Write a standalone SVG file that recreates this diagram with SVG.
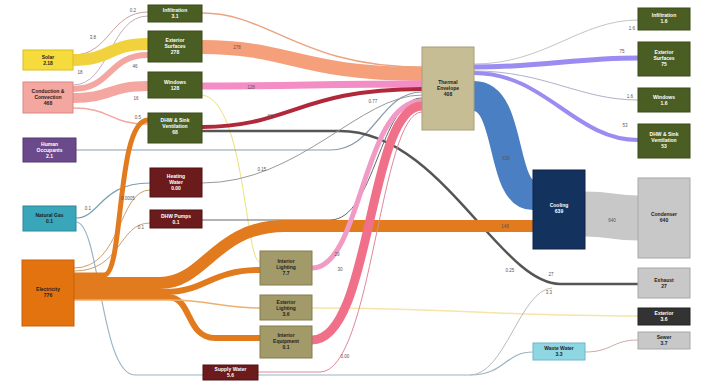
<svg xmlns="http://www.w3.org/2000/svg" width="702" height="381" viewBox="0 0 702 381">
<style>
.f{fill:none;stroke-linecap:butt}
.n text{font-family:"Liberation Sans",Arial,sans-serif;font-size:5px;font-weight:bold;text-anchor:middle}
.w{fill:#fff}
.d{fill:#222}
.l{font-family:"Liberation Sans",Arial,sans-serif;font-size:4.5px;fill:#555;text-anchor:middle}
</style>
<rect width="702" height="381" fill="#ffffff"/>
<g id="connectors">
<path class="f" d="M73,55 C110,55 110,12 148,12" stroke="#c9a0a0" stroke-width="1"/>
<path class="f" d="M73,85 C110,85 110,16 148,16" stroke="#c0b0c0" stroke-width="1"/>
<path class="f" d="M73,60 C112,60 108,44 148,44" stroke="#f2d23c" stroke-width="12"/>
<path class="f" d="M73,89 C112,89 108,55 148,55" stroke="#f4a6a0" stroke-width="6"/>
<path class="f" d="M73,98 C112,98 108,86 148,86" stroke="#f4a6a0" stroke-width="10"/>
<path class="f" d="M73,108 C112,108 108,124 148,124" stroke="#f4a6a0" stroke-width="1.5"/>
<path class="f" d="M202,95 C245,100 245,262 260,262" stroke="#ede07a" stroke-width="1"/>
<path class="f" d="M202,13 C270,13 300,67 422,67" stroke="#eaa482" stroke-width="1.5"/>
<path class="f" d="M202,47 C290,47 300,74 422,74" stroke="#f5a07a" stroke-width="14"/>
<path class="f" d="M202,86 C300,86 320,84 422,84" stroke="#f48cc6" stroke-width="7"/>
<path class="f" d="M202,127 C290,127 300,89 422,89" stroke="#b0283a" stroke-width="4"/>
<path class="f" d="M76,150 L330,150 C375,150 380,92 422,92" stroke="#8a9aaa" stroke-width="1.2"/>
<path class="f" d="M202,131 L340,131 C440,131 500,284 560,284 L638,284" stroke="#555555" stroke-width="2.5"/>
<path class="f" d="M74,268 C122,268 118,190 150,190" stroke="#c9a070" stroke-width="1"/>
<path class="f" d="M74,271 C122,271 118,223 150,223" stroke="#c9a070" stroke-width="1"/>
<path class="f" d="M76,218 C100,218 100,183 150,183" stroke="#7aa0b0" stroke-width="1.2"/>
<path class="f" d="M76,222 C100,222 100,375 135,375 L470,375 C505,375 505,352 533,352" stroke="#9ab4c4" stroke-width="1.2"/>
<path class="f" d="M202,183 C300,183 360,95 422,95" stroke="#999999" stroke-width="1"/>
<path class="f" d="M202,220 L330,220 C375,220 380,98 422,98" stroke="#666666" stroke-width="1"/>
<path class="f" d="M74,275 L104,275 C124,275 116,120 148,120" stroke="#e27a1e" stroke-width="5"/>
<path class="f" d="M74,283 L160,283 C205,283 215,226 285,226 L533,226" stroke="#e27a1e" stroke-width="12"/>
<path class="f" d="M74,292 L165,292 C205,292 210,270 260,270" stroke="#e27a1e" stroke-width="6"/>
<path class="f" d="M74,297 L168,297 C192,297 186,338 215,338 L260,338" stroke="#e27a1e" stroke-width="6"/>
<path class="f" d="M74,300 L170,300 C210,300 220,308 260,308" stroke="#eeb070" stroke-width="1.5"/>
<path class="f" d="M312,308 C450,308 500,316 638,316" stroke="#f7e4a8" stroke-width="1.5"/>
<path class="f" d="M312,268 C362,268 362,101 422,101" stroke="#f29ac6" stroke-width="5"/>
<path class="f" d="M312,340 C372,340 368,106 422,106" stroke="#f0708a" stroke-width="9"/>
<path class="f" d="M258,372 L320,372 C372,372 380,112 422,112" stroke="#e0889a" stroke-width="1"/>
<path class="f" d="M470,375 C505,375 520,290 552,288" stroke="#bbbbbb" stroke-width="1"/>
<path class="f" d="M474,96 C512,96 500,195 533,195" stroke="#4a7fc4" stroke-width="30"/>
<path class="f" d="M474,64 C545,64 580,20 638,20" stroke="#c4c4c4" stroke-width="1"/>
<path class="f" d="M474,67 C545,67 575,58 638,58" stroke="#9a8cf0" stroke-width="5"/>
<path class="f" d="M474,71 C545,71 580,100 638,100" stroke="#b0b0c8" stroke-width="1"/>
<path class="f" d="M474,73 C545,73 575,140 638,140" stroke="#9a8cf0" stroke-width="4"/>
<path class="f" d="M585,214 C612,214 612,218 638,218" stroke="#c8c8c8" stroke-width="45"/>
<path class="f" d="M585,352 C612,352 612,340 638,340" stroke="#cfa8a8" stroke-width="1"/>
<text class="l" x="93" y="39">3.8</text>
<text class="l" x="80" y="74">18</text>
<text class="l" x="133" y="12">0.2</text>
<text class="l" x="135" y="68">46</text>
<text class="l" x="136" y="100">16</text>
<text class="l" x="138" y="119">0.5</text>
<text class="l" x="237" y="49">278</text>
<text class="l" x="251" y="89">128</text>
<text class="l" x="270" y="118">68</text>
<text class="l" x="373" y="103">0.77</text>
<text class="l" x="88" y="210">0.1</text>
<text class="l" x="128" y="200">0.0005</text>
<text class="l" x="141" y="229">0.1</text>
<text class="l" x="262" y="171">0.15</text>
<text class="l" x="337" y="256">29</text>
<text class="l" x="340" y="271">30</text>
<text class="l" x="345" y="358">0.00</text>
<text class="l" x="505" y="228">148</text>
<text class="l" x="506" y="160">639</text>
<text class="l" x="612" y="222">640</text>
<text class="l" x="510" y="272">0.25</text>
<text class="l" x="551" y="276">27</text>
<text class="l" x="549" y="294">3.3</text>
<text class="l" x="632" y="30">1.6</text>
<text class="l" x="622" y="53">75</text>
<text class="l" x="630" y="98">1.6</text>
<text class="l" x="625" y="127">53</text>
</g>
<g id="solar" class="n"><rect x="23" y="50" width="50" height="20" fill="#f5dc3c" stroke="#d8be20"/><text class="d" x="48" y="59">Solar</text><text class="d" x="48" y="65">2.18</text></g>
<g id="conduction" class="n"><rect x="23" y="82" width="50" height="31" fill="#f4a6a0" stroke="#d88880"/><text class="d" x="48" y="93">Conduction &amp;</text><text class="d" x="48" y="99">Convection</text><text class="d" x="48" y="105">468</text></g>
<g id="occupants" class="n"><rect x="23" y="138" width="53" height="24" fill="#6b4a8c" stroke="#54386e"/><text class="w" x="49.5" y="146">Human</text><text class="w" x="49.5" y="152">Occupants</text><text class="w" x="49.5" y="158">2.1</text></g>
<g id="gas" class="n"><rect x="23" y="206" width="53" height="25" fill="#3aa6b9" stroke="#2a8898"/><text class="d" x="49.5" y="217">Natural Gas</text><text class="d" x="49.5" y="223">0.1</text></g>
<g id="electricity" class="n"><rect x="22" y="260" width="52" height="66" fill="#e2730f" stroke="#c86008"/><text class="d" x="48" y="291">Electricity</text><text class="d" x="48" y="297">776</text></g>
<g id="infiltration-in" class="n"><rect x="148" y="5" width="54" height="17" fill="#4a5e23" stroke="#3a4a18"/><text class="w" x="175" y="12">Infiltration</text><text class="w" x="175" y="18">3.1</text></g>
<g id="exterior-surfaces-in" class="n"><rect x="148" y="31" width="54" height="31" fill="#4a5e23" stroke="#3a4a18"/><text class="w" x="175" y="42">Exterior</text><text class="w" x="175" y="48">Surfaces</text><text class="w" x="175" y="54">278</text></g>
<g id="windows-in" class="n"><rect x="148" y="72" width="54" height="26" fill="#4a5e23" stroke="#3a4a18"/><text class="w" x="175" y="84">Windows</text><text class="w" x="175" y="90">128</text></g>
<g id="dhw-in" class="n"><rect x="148" y="113" width="54" height="30" fill="#4a5e23" stroke="#3a4a18"/><text class="w" x="175" y="122">DHW &amp; Sink</text><text class="w" x="175" y="128">Ventilation</text><text class="w" x="175" y="134">68</text></g>
<g id="heating-water" class="n"><rect x="150" y="168" width="52" height="29" fill="#6b1b1b" stroke="#501010"/><text class="w" x="176" y="178">Heating</text><text class="w" x="176" y="184">Water</text><text class="w" x="176" y="190">0.00</text></g>
<g id="dhw-pumps" class="n"><rect x="150" y="210" width="52" height="18" fill="#6b1b1b" stroke="#501010"/><text class="w" x="176" y="218">DHW Pumps</text><text class="w" x="176" y="224">0.1</text></g>
<g id="interior-lighting" class="n"><rect x="260" y="251" width="52" height="34" fill="#a39a6a" stroke="#857c50"/><text class="d" x="286" y="263">Interior</text><text class="d" x="286" y="269">Lighting</text><text class="d" x="286" y="275">7.7</text></g>
<g id="exterior-lighting" class="n"><rect x="260" y="295" width="52" height="25" fill="#a39a6a" stroke="#857c50"/><text class="d" x="286" y="304">Exterior</text><text class="d" x="286" y="310">Lighting</text><text class="d" x="286" y="316">3.6</text></g>
<g id="interior-equipment" class="n"><rect x="260" y="326" width="52" height="32" fill="#a39a6a" stroke="#857c50"/><text class="d" x="286" y="337">Interior</text><text class="d" x="286" y="343">Equipment</text><text class="d" x="286" y="349">0.1</text></g>
<g id="supply-water" class="n"><rect x="203" y="365" width="55" height="15" fill="#6b1b1b" stroke="#501010"/><text class="w" x="230.5" y="371">Supply Water</text><text class="w" x="230.5" y="377">5.6</text></g>
<g id="thermal" class="n"><rect x="422" y="47" width="52" height="83" fill="#c7bd95" stroke="#a89e78"/><text class="d" x="448" y="84">Thermal</text><text class="d" x="448" y="90">Envelope</text><text class="d" x="448" y="96">408</text></g>
<g id="cooling" class="n"><rect x="533" y="170" width="52" height="79" fill="#14325e" stroke="#0c2248"/><text class="w" x="559" y="207">Cooling</text><text class="w" x="559" y="213">639</text></g>
<g id="waste-water" class="n"><rect x="533" y="343" width="52" height="17" fill="#8fd6e3" stroke="#6ab8c8"/><text class="d" x="559" y="350">Waste Water</text><text class="d" x="559" y="356">3.3</text></g>
<g id="infiltration-out" class="n"><rect x="638" y="8" width="52" height="22" fill="#4a5e23" stroke="#3a4a18"/><text class="w" x="664" y="17">Infiltration</text><text class="w" x="664" y="23">1.6</text></g>
<g id="exterior-surfaces-out" class="n"><rect x="638" y="42" width="52" height="34" fill="#4a5e23" stroke="#3a4a18"/><text class="w" x="664" y="54">Exterior</text><text class="w" x="664" y="60">Surfaces</text><text class="w" x="664" y="66">75</text></g>
<g id="windows-out" class="n"><rect x="638" y="88" width="52" height="24" fill="#4a5e23" stroke="#3a4a18"/><text class="w" x="664" y="99">Windows</text><text class="w" x="664" y="105">1.6</text></g>
<g id="dhw-out" class="n"><rect x="638" y="124" width="52" height="34" fill="#4a5e23" stroke="#3a4a18"/><text class="w" x="664" y="136">DHW &amp; Sink</text><text class="w" x="664" y="142">Ventilation</text><text class="w" x="664" y="148">53</text></g>
<g id="condenser" class="n"><rect x="638" y="178" width="52" height="80" fill="#c8c8c8" stroke="#a8a8a8"/><text class="d" x="664" y="216">Condenser</text><text class="d" x="664" y="222">640</text></g>
<g id="exhaust" class="n"><rect x="638" y="268" width="52" height="30" fill="#c8c8c8" stroke="#a8a8a8"/><text class="d" x="664" y="282">Exhaust</text><text class="d" x="664" y="288">27</text></g>
<g id="exterior" class="n"><rect x="638" y="308" width="52" height="17" fill="#333333" stroke="#222"/><text class="w" x="664" y="315">Exterior</text><text class="w" x="664" y="321">3.6</text></g>
<g id="sewer" class="n"><rect x="638" y="332" width="52" height="17" fill="#c8c8c8" stroke="#a8a8a8"/><text class="d" x="664" y="339">Sewer</text><text class="d" x="664" y="345">3.7</text></g>
</svg>
